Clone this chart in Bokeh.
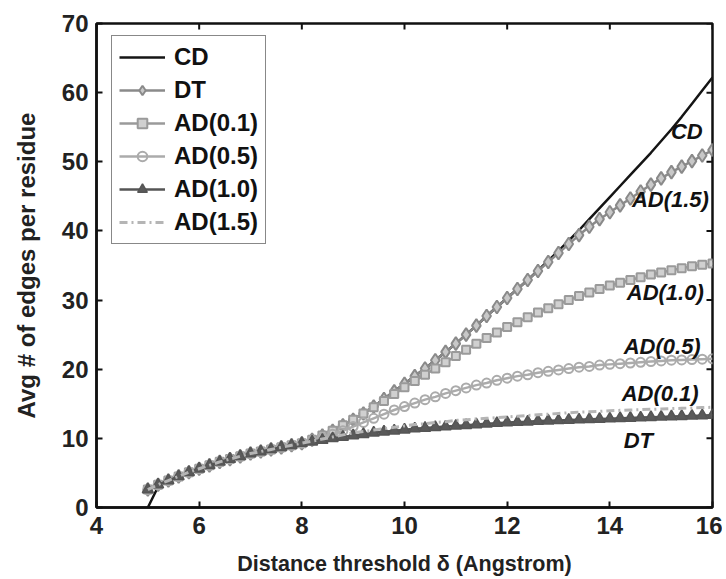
import math
from bokeh.plotting import figure
from bokeh.models import Legend, LegendItem, FixedTicker, Range1d, ColumnDataSource
from bokeh.embed import file_html
from bokeh.resources import INLINE
from bokeh.core.properties import value

# ---- data ----
x = [5.0, 5.2, 5.4, 5.6, 5.8, 6.0, 6.2, 6.4, 6.6, 6.8, 7.0, 7.2, 7.4, 7.6, 7.8, 8.0,
     8.2, 8.4, 8.6, 8.8, 9.0, 9.2, 9.4, 9.6, 9.8, 10.0, 10.2, 10.4, 10.6, 10.8, 11.0,
     11.2, 11.4, 11.6, 11.8, 12.0, 12.2, 12.4, 12.6, 12.8, 13.0, 13.2, 13.4, 13.6, 13.8,
     14.0, 14.2, 14.4, 14.6, 14.8, 15.0, 15.2, 15.4, 15.6, 15.8, 16.0]

cd = [0.0, 3.0, 3.9, 4.5, 5.1, 5.6, 6.1, 6.6, 7.0, 7.4, 7.8, 8.1, 8.4, 8.7, 9.0, 9.3,
      9.8, 10.4, 11.1, 11.9, 12.7, 13.6, 14.6, 15.7, 16.8, 17.9, 19.0, 20.1, 21.3, 22.5, 23.7,
      25.0, 26.3, 27.7, 29.0, 30.3, 31.6, 32.9, 34.3, 35.7, 37.1, 38.6, 40.1, 41.7, 43.3,
      44.9, 46.5, 48.1, 49.7, 51.3, 53.0, 54.7, 56.5, 58.4, 60.3, 62.2]

dt = [2.6, 3.3, 3.9, 4.5, 5.1, 5.6, 6.1, 6.6, 7.0, 7.4, 7.8, 8.1, 8.4, 8.7, 9.0, 9.3,
      9.8, 10.4, 11.1, 11.9, 12.7, 13.6, 14.6, 15.7, 16.8, 17.9, 19.0, 20.1, 21.3, 22.5, 23.7,
      25.0, 26.3, 27.7, 29.0, 30.3, 31.6, 32.9, 34.2, 35.5, 36.8, 38.1, 39.4, 40.6, 41.7,
      42.7, 43.7, 44.7, 45.7, 46.7, 47.6, 48.5, 49.3, 50.1, 50.9, 51.7]

ad01 = [2.6, 3.3, 3.9, 4.5, 5.1, 5.6, 6.1, 6.6, 7.0, 7.4, 7.8, 8.1, 8.4, 8.7, 9.0, 9.3,
        9.8, 10.4, 11.1, 11.9, 12.7, 13.6, 14.5, 15.4, 16.4, 17.4, 18.3, 19.2, 20.1, 21.0, 21.9,
        22.8, 23.7, 24.5, 25.3, 26.1, 26.8, 27.5, 28.2, 28.8, 29.4, 30.0, 30.6, 31.1, 31.6,
        32.1, 32.5, 32.9, 33.3, 33.7, 34.0, 34.3, 34.6, 34.9, 35.1, 35.3]

ad05 = [2.6, 3.3, 3.9, 4.5, 5.1, 5.6, 6.1, 6.6, 7.0, 7.4, 7.8, 8.1, 8.4, 8.7, 9.0, 9.3,
        9.7, 10.1, 10.6, 11.1, 11.7, 12.3, 12.9, 13.5, 14.1, 14.6, 15.1, 15.6, 16.0, 16.5, 16.9,
        17.3, 17.7, 18.0, 18.4, 18.7, 19.0, 19.2, 19.5, 19.7, 19.9, 20.1, 20.3, 20.4, 20.6,
        20.7, 20.8, 20.9, 21.0, 21.1, 21.2, 21.3, 21.35, 21.4, 21.45, 21.5]

ad10 = [2.6, 3.3, 3.9, 4.5, 5.1, 5.6, 6.1, 6.6, 7.0, 7.4, 7.8, 8.1, 8.4, 8.7, 9.0, 9.3,
        9.5, 9.75, 10.0, 10.2, 10.4, 10.6, 10.8, 10.95, 11.1, 11.25, 11.4, 11.5, 11.6, 11.7, 11.8,
        11.9, 12.0, 12.1, 12.2, 12.3, 12.35, 12.4, 12.5, 12.55, 12.6, 12.65, 12.7, 12.75, 12.8,
        12.85, 12.9, 12.95, 13.0, 13.05, 13.1, 13.15, 13.2, 13.25, 13.3, 13.35]

ad15 = [2.6, 3.3, 3.9, 4.5, 5.1, 5.6, 6.1, 6.6, 7.0, 7.4, 7.8, 8.1, 8.4, 8.7, 9.0, 9.3,
        9.6, 9.9, 10.2, 10.5, 10.8, 11.0, 11.2, 11.4, 11.6, 11.8, 12.0, 12.1, 12.3, 12.4, 12.6,
        12.7, 12.8, 12.9, 13.0, 13.1, 13.2, 13.3, 13.4, 13.5, 13.6, 13.7, 13.8, 13.85, 13.9,
        14.0, 14.05, 14.1, 14.15, 14.2, 14.25, 14.3, 14.35, 14.4, 14.45, 14.5]

series_names = ["CD", "DT", "AD(0.1)", "AD(0.5)", "AD(1.0)", "AD(1.5)"]

x_ticks = [4, 6, 8, 10, 12, 14, 16]
y_ticks = [0, 10, 20, 30, 40, 50, 60, 70]
x_min, x_max = 4, 16
y_min, y_max = 0, 70

# in-plot annotation texts (as printed in the reference) and where they sit
note_text = ["CD", "AD(1.5)", "AD(1.0)", "AD(0.5)", "AD(0.1)", "DT"]
note_x = [15.81, 15.93, 15.83, 15.77, 15.73, 14.84]
note_y = [54.4, 44.6, 31.1, 23.3, 16.5, 9.7]

FONT = "Liberation Sans"

p = figure(frame_width=616, frame_height=484,
           x_range=Range1d(x_min, x_max), y_range=Range1d(y_min, y_max),
           output_backend="svg", toolbar_location=None,
           min_border_left=96, min_border_top=23, min_border_right=10,
           min_border_bottom=0, background_fill_color="white",
           border_fill_color="white", outline_line_color="#111111",
           outline_line_width=2.5)
p.grid.visible = False


def style_axis(ax):
    ax.axis_line_color = "#111111"
    ax.axis_line_width = 2.5
    ax.major_tick_line_color = "#111111"
    ax.major_tick_line_width = 2
    ax.major_tick_in = 6
    ax.major_tick_out = 0
    ax.minor_tick_line_color = None
    ax.major_label_text_font = FONT
    ax.major_label_text_font_style = "bold"
    ax.major_label_text_font_size = "24px"
    ax.major_label_text_color = "#222222"
    ax.axis_label_text_font = FONT
    ax.axis_label_text_font_style = "bold"
    ax.axis_label_text_font_size = "21.5px"
    ax.axis_label_text_color = "#222222"


xa = p.xaxis[0]
ya = p.yaxis[0]
xa.ticker = FixedTicker(ticks=x_ticks)
ya.ticker = FixedTicker(ticks=y_ticks)
style_axis(xa)
style_axis(ya)
xa.axis_label = "Distance threshold δ (Angstrom)"
ya.axis_label = "Avg # of edges per residue"
ya.axis_label_text_font_size = "24px"
xa.major_label_standoff = 9
ya.major_label_standoff = 8
xa.axis_label_standoff = 15
ya.axis_label_standoff = 19

# inward ticks on the top and right sides of the box (MATLAB style)
p.ray(x=x_ticks, y=[y_max] * len(x_ticks), length=6, length_units="screen",
      angle=-math.pi / 2, line_color="#111111", line_width=2)
p.ray(x=[x_max] * len(y_ticks), y=y_ticks, length=6, length_units="screen",
      angle=math.pi, line_color="#111111", line_width=2)

src = ColumnDataSource(data=dict(x=x, cd=cd, dt=dt, ad01=ad01, ad05=ad05,
                                 ad10=ad10, ad15=ad15))

r_cd = p.line("x", "cd", source=src, line_color="#151515", line_width=2.5)

r_dt_l = p.line("x", "dt", source=src, line_color="#8a8a8a", line_width=2.5)
r_dt_m = p.scatter("x", "dt", source=src, marker="diamond", size=13,
                   line_color="#8a8a8a", line_width=2, fill_color="#c8c8c8")

r_01_l = p.line("x", "ad01", source=src, line_color="#9a9a9a", line_width=2.5)
r_01_m = p.scatter("x", "ad01", source=src, marker="square", size=8,
                   line_color="#9a9a9a", line_width=2, fill_color="#d0d0d0")

r_05_l = p.line("x", "ad05", source=src, line_color="#ababab", line_width=2.5)
r_05_m = p.scatter("x", "ad05", source=src, marker="circle", size=9,
                   line_color="#ababab", line_width=2, fill_color=None)

r_10_l = p.line("x", "ad10", source=src, line_color="#555555", line_width=2.5)
r_10_m = p.scatter("x", "ad10", source=src, marker="triangle", size=11,
                   line_color="#555555", line_width=1.5, fill_color="#5a5a5a")

r_15 = p.line("x", "ad15", source=src, line_color="#b5b5b5", line_width=3,
              line_dash="8 4 2 4")

notes = ColumnDataSource(data=dict(x=note_x, y=note_y, t=note_text))
p.text("x", "y", text="t", source=notes, text_align="right",
       text_baseline="middle", text_font=value(FONT), text_font_style="bold italic",
       text_font_size="22px", text_color="#111111")

legend = Legend(items=[
    LegendItem(label=series_names[0], renderers=[r_cd]),
    LegendItem(label=series_names[1], renderers=[r_dt_l, r_dt_m]),
    LegendItem(label=series_names[2], renderers=[r_01_l, r_01_m]),
    LegendItem(label=series_names[3], renderers=[r_05_l, r_05_m]),
    LegendItem(label=series_names[4], renderers=[r_10_l, r_10_m]),
    LegendItem(label=series_names[5], renderers=[r_15]),
], location=(15, 263))
legend.label_text_font = FONT
legend.label_text_font_style = "bold"
legend.label_text_font_size = "24px"
legend.label_text_color = "#111111"
legend.glyph_width = 46
legend.glyph_height = 24
legend.label_height = 24
legend.label_standoff = 9
legend.spacing = 5
legend.padding = 7
legend.margin = 0
legend.border_line_color = "#111111"
legend.border_line_width = 1.2
legend.background_fill_color = "white"
legend.background_fill_alpha = 1.0
p.add_layout(legend)

open("out.html", "w").write(file_html(p, INLINE))
